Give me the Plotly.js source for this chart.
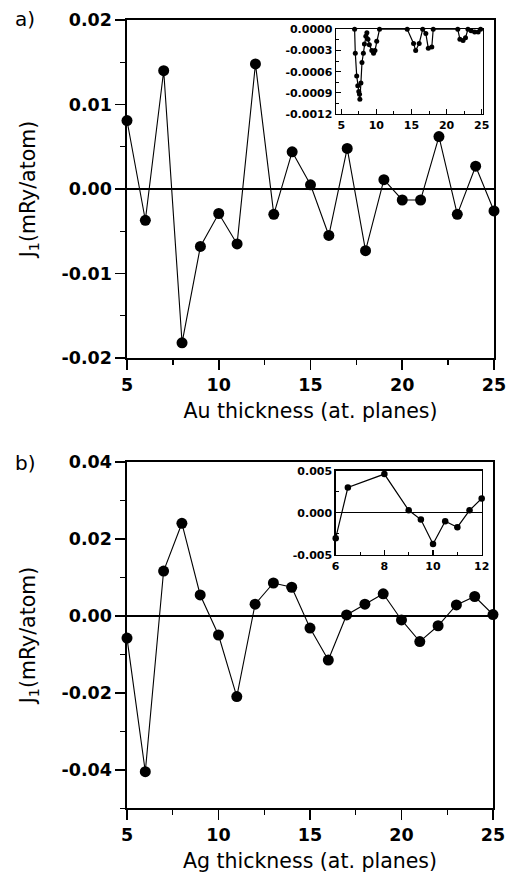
<!DOCTYPE html>
<html>
<head>
<meta charset="utf-8">
<script src="https://cdn.plot.ly/plotly-3.0.1.min.js"></script>
<style>html,body{margin:0;padding:0;background:#fff;}#chart{width:511px;height:879px;}</style>
</head>
<body>
<div id="chart"></div>
<script>
// ---- data ----
const thickness = [5,6,7,8,9,10,11,12,13,14,15,16,17,18,19,20,21,22,23,24,25];
const auJ1 = [0.0081,-0.0037,0.0140,-0.0182,-0.0068,-0.0029,-0.0065,0.0148,-0.0030,0.0044,0.0005,-0.0055,0.0048,-0.0073,0.0011,-0.0013,-0.0013,0.0062,-0.0030,0.0027,-0.0026];
const agJ1 = [-0.0058,-0.0405,0.0116,0.0240,0.0054,-0.0050,-0.0210,0.0030,0.0085,0.0074,-0.0032,-0.0115,0.0002,0.0030,0.0057,-0.0011,-0.0067,-0.0026,0.0028,0.0050,0.0003];
const auInsetX = [6.9,7.0,7.2,7.35,7.5,7.6,7.65,7.8,7.95,8.15,8.3,8.5,8.65,8.8,9.0,9.35,9.6,9.8,10.05,10.45,14.4,15.3,15.6,16.1,16.6,17.05,17.4,17.9,18.1,21.6,21.9,22.35,22.7,23.05,23.5,24.0,24.5,24.85];
const auInsetY = [0,-0.00034,-0.00066,-0.0008,-0.00088,-0.00092,-0.00099,-0.00076,-0.00047,-0.00034,-0.00021,-0.0001,-0.00005,-0.00014,-0.00022,-0.0003,-0.00034,-0.0003,-0.00017,0,0,-0.0002,-0.0003,-0.0002,0,-0.00006,-0.00027,-0.00025,0,0,-0.00014,-0.00016,-0.00012,0,-0.00002,-0.00004,-0.00004,0];
const agInsetX = [6,6.5,8,9,9.5,10,10.5,11,11.5,12];
const agInsetY = [-0.0030,0.0030,0.0046,0.0003,-0.0008,-0.0037,-0.0010,-0.0017,0.0003,0.0017];
const mainXTicks = [5,10,15,20,25];
const auYTicks = [-0.02,-0.01,0.00,0.01,0.02];
const auYTickText = ['-0.02','-0.01','0.00','0.01','0.02'];
const agYTicks = [-0.04,-0.02,0.00,0.02,0.04];
const agYTickText = ['-0.04','-0.02','0.00','0.02','0.04'];
const auInsetYTicks = [-0.0012,-0.0009,-0.0006,-0.0003,0];
const auInsetYTickText = ['-0.0012','-0.0009','-0.0006','-0.0003','0.0000'];
const agInsetYTicks = [-0.005,0,0.005];
const agInsetYTickText = ['-0.005','0.000','0.005'];
const agInsetXTicks = [6,8,10,12];
const yTitle = 'J<sub>1</sub>(mRy/atom)';
const auXTitle = 'Au thickness (at. planes)';
const agXTitle = 'Ag thickness (at. planes)';

// ---- helpers ----
const W = 511, H = 879;
const dx = (a,b) => [a/W, b/W];
const dy = (top,bottom) => [1-bottom/H, 1-top/H];
const FONT = 'DejaVu Sans';
const tickFontMain = {family: FONT, size: 17.5, color: '#000', weight: 'bold'};
const tickFontInset = {family: FONT, size: 11, color: '#000', weight: 'bold'};
const titleFont = {family: FONT, size: 20.5, color: '#000'};

function mainAxis(extra){
  return Object.assign({
    showline: true, linecolor: '#000', linewidth: 1.6, mirror: true,
    ticks: 'outside', ticklen: 10, tickwidth: 1.6, tickcolor: '#000',
    showgrid: false, zeroline: false, tickfont: tickFontMain
  }, extra);
}
function insetAxis(extra){
  return Object.assign({
    showline: true, linecolor: '#000', linewidth: 1.4, mirror: true,
    ticks: 'inside', ticklen: 5, tickwidth: 1.2, tickcolor: '#000',
    showgrid: false, zeroline: false, tickfont: tickFontInset
  }, extra);
}

const traces = [
  {x: thickness, y: auJ1, xaxis: 'x', yaxis: 'y', mode: 'lines+markers',
   line: {color: '#000', width: 1.1}, marker: {color: '#000', size: 11}, cliponaxis: false},
  {x: auInsetX, y: auInsetY, xaxis: 'x2', yaxis: 'y2', mode: 'lines+markers',
   line: {color: '#000', width: 1.2}, marker: {color: '#000', size: 5}, cliponaxis: false},
  {x: thickness, y: agJ1, xaxis: 'x3', yaxis: 'y3', mode: 'lines+markers',
   line: {color: '#000', width: 1.1}, marker: {color: '#000', size: 11}, cliponaxis: false},
  {x: agInsetX, y: agInsetY, xaxis: 'x4', yaxis: 'y4', mode: 'lines+markers',
   line: {color: '#000', width: 1.2}, marker: {color: '#000', size: 6.5}, cliponaxis: false}
];

const layout = {
  width: W, height: H,
  margin: {l: 0, r: 0, t: 0, b: 0},
  paper_bgcolor: '#fff', plot_bgcolor: 'rgba(0,0,0,0)',
  showlegend: false,
  xaxis: mainAxis({domain: dx(127,494), anchor: 'y', range: [5,25], tickvals: mainXTicks,
    minor: {dtick: 2.5, ticks: 'outside', ticklen: 5, tickwidth: 1.4, tickcolor: '#000'},
    title: {text: auXTitle, font: titleFont, standoff: 10}}),
  yaxis: mainAxis({domain: dy(20,358), anchor: 'x', range: [-0.02,0.02], tickvals: auYTicks, ticktext: auYTickText,
    zeroline: true, zerolinecolor: '#000', zerolinewidth: 2,
    minor: {dtick: 0.005, ticks: 'outside', ticklen: 5, tickwidth: 1.4, tickcolor: '#000'},
    title: {text: yTitle, font: titleFont, standoff: 20}}),
  xaxis2: insetAxis({domain: dx(336,482.7), anchor: 'y2', range: [4.25,25.15], tickvals: mainXTicks,
    minor: {dtick: 2.5, ticks: 'inside', ticklen: 3, tickwidth: 1, tickcolor: '#000'}}),
  yaxis2: insetAxis({domain: dy(29.3,114), anchor: 'x2', range: [-0.0012,0], tickvals: auInsetYTicks, ticktext: auInsetYTickText,
    minor: {dtick: 0.00015, ticks: 'inside', ticklen: 3, tickwidth: 1, tickcolor: '#000'}}),
  xaxis3: mainAxis({domain: dx(127,493), anchor: 'y3', range: [5,25], tickvals: mainXTicks,
    minor: {dtick: 2.5, ticks: 'outside', ticklen: 5, tickwidth: 1.4, tickcolor: '#000'},
    title: {text: agXTitle, font: titleFont, standoff: 10}}),
  yaxis3: mainAxis({domain: dy(461.7,808.3), anchor: 'x3', range: [-0.05,0.04], tickvals: agYTicks, ticktext: agYTickText,
    zeroline: true, zerolinecolor: '#000', zerolinewidth: 2,
    minor: {dtick: 0.01, ticks: 'outside', ticklen: 5, tickwidth: 1.4, tickcolor: '#000'},
    title: {text: yTitle, font: titleFont, standoff: 20}}),
  xaxis4: insetAxis({domain: dx(335.7,481.7), anchor: 'y4', range: [6,12], tickvals: agInsetXTicks,
    minor: {dtick: 1, ticks: 'inside', ticklen: 3, tickwidth: 1, tickcolor: '#000'}}),
  yaxis4: insetAxis({domain: dy(470.7,555), anchor: 'x4', range: [-0.005,0.005], tickvals: agInsetYTicks, ticktext: agInsetYTickText,
    zeroline: true, zerolinecolor: '#000', zerolinewidth: 1,
    minor: {dtick: 0.0025, ticks: 'inside', ticklen: 3, tickwidth: 1, tickcolor: '#000'}}),
  annotations: [
    {text: 'a)', xref: 'paper', yref: 'paper', x: 25/W, y: 1-19/H, showarrow: false,
     xanchor: 'center', yanchor: 'middle', font: {family: FONT, size: 20, color: '#000'}},
    {text: 'b)', xref: 'paper', yref: 'paper', x: 25/W, y: 1-463/H, showarrow: false,
     xanchor: 'center', yanchor: 'middle', font: {family: FONT, size: 20, color: '#000'}}
  ]
};

Plotly.newPlot('chart', traces, layout, {staticPlot: true, displayModeBar: false});
</script>
</body>
</html>
